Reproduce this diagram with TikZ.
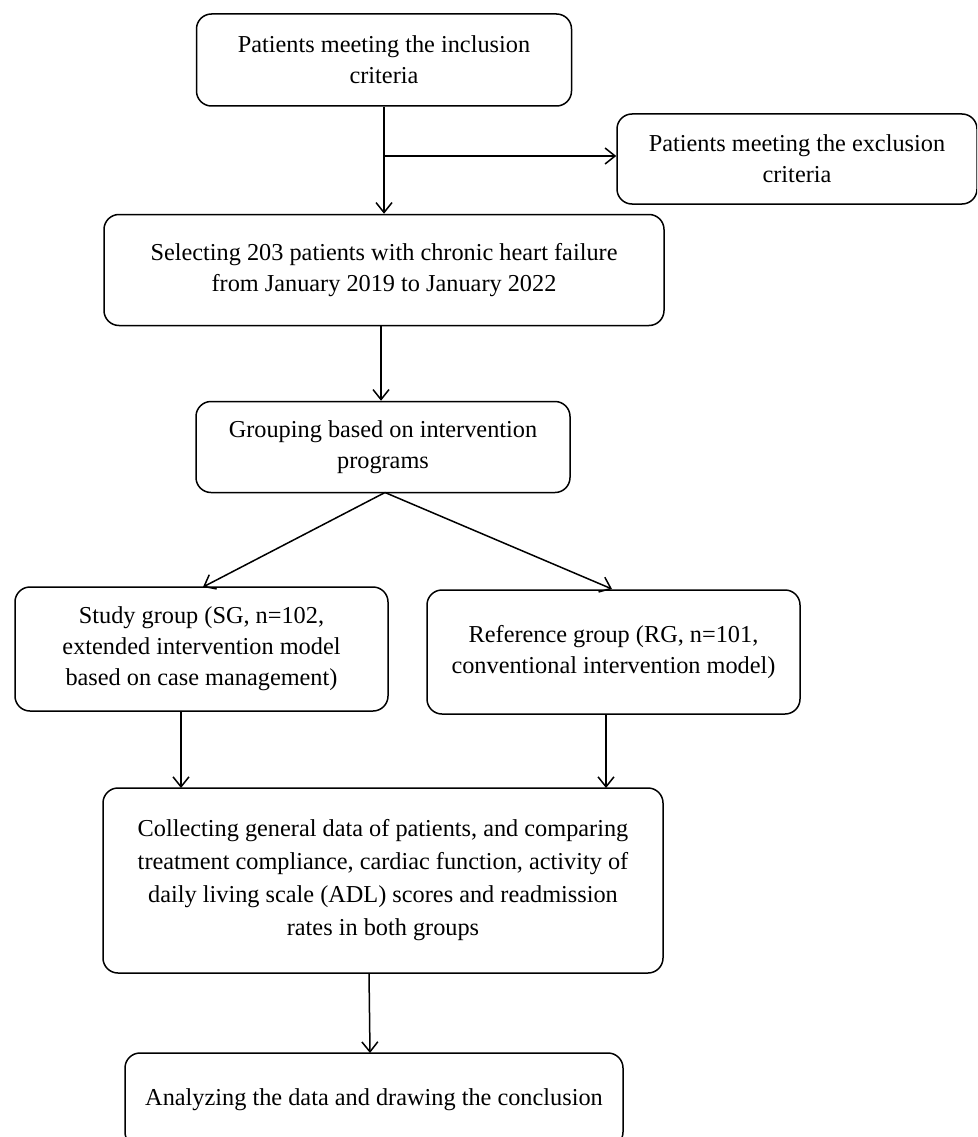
\documentclass[tikz,border=0pt]{standalone}
\usepackage{fontspec}
\setmainfont{Liberation Serif}
\usetikzlibrary{arrows.meta}
\begin{document}
\begin{tikzpicture}[x=1pt,y=-1pt,
  box/.style={draw,line width=1.5pt,rounded corners=15pt,inner sep=0pt,align=center,font=\fontsize{24.3}{31}\selectfont},
  arr/.style={line width=1.5pt,-{Straight Barb[length=10pt,width=16pt,line width=1.5pt]}}]
\useasboundingbox (0,0) rectangle (977,1137);
\begin{scope}
\clip (0,0) rectangle (977,1137);
\node[box,minimum width=375pt,minimum height=92pt] (inc) at (384,60) {Patients meeting the inclusion\\criteria};
\node[box,minimum width=360pt,minimum height=90pt] (exc) at (797,159) {Patients meeting the exclusion\\criteria};
\node[box,minimum width=560pt,minimum height=111pt] (sel) at (384,270) {Selecting 203 patients with chronic heart failure\\from January 2019 to January 2022};
\node[box,minimum width=374pt,minimum height=91pt] (grp) at (383,447) {Grouping based on intervention\\programs};
\node[box,minimum width=373pt,minimum height=124pt] (sg) at (201.5,649) {Study group (SG, n=102,\\extended intervention model\\based on case management)};
\node[box,minimum width=373pt,minimum height=124pt] (rg) at (613.5,652) {Reference group (RG, n=101,\\conventional intervention model)};
\node[box,minimum width=560pt,minimum height=185pt,font=\fontsize{24.3}{33}\selectfont] (col) at (383,880.5) {Collecting general data of patients, and comparing\\treatment compliance, cardiac function, activity of\\daily living scale (ADL) scores and readmission\\rates in both groups};
\node[box,minimum width=498pt,minimum height=94pt] (ana) at (374,1100) {Analyzing the data and drawing the conclusion};
\coordinate (br) at (384,156);
\draw[arr] (inc.south -| br) -- (sel.north -| br);
\draw[arr] (br) -- (br -| exc.west);
\draw[arr] ([xshift=-3pt]sel.south) -- ([xshift=-3pt]grp.north -| sel.south);
\coordinate (gs) at (385,492.5);
\draw[arr] (gs) -- (203,587);
\draw[arr] (gs) -- (612,589);
\draw[arr] (181,711) -- (181,788);
\draw[arr] (606,714) -- (606,788);
\draw[arr] (369,973) -- (370,1053);
\end{scope}
\end{tikzpicture}
\end{document}
